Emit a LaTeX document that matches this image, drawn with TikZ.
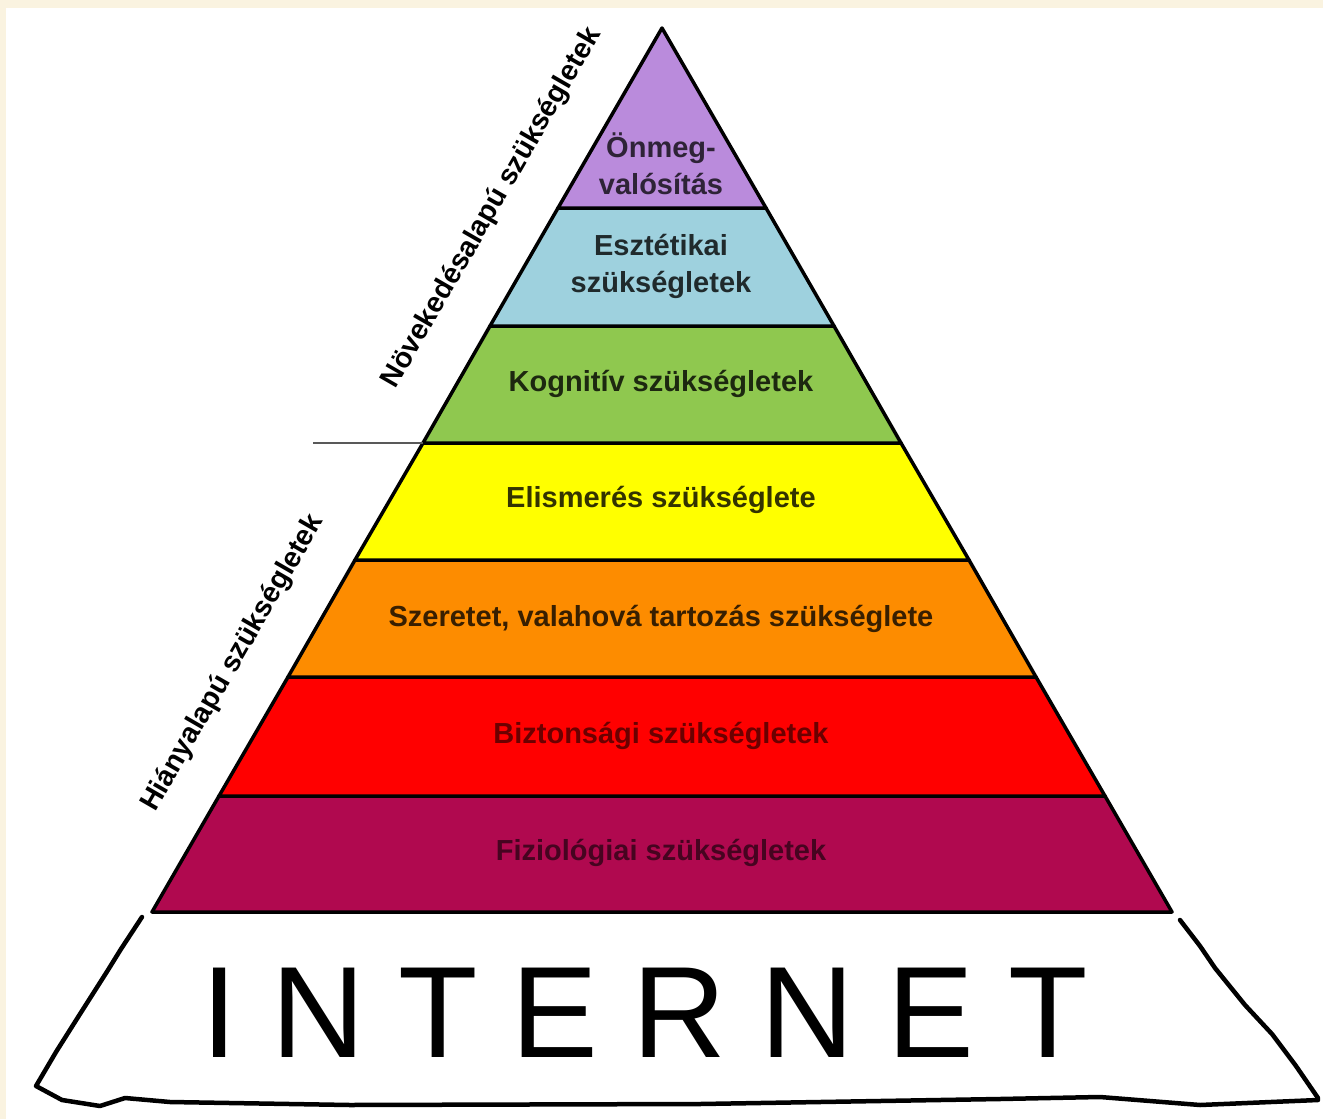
\documentclass[tikz,border=0pt]{standalone}
\usepackage{fontspec}
\setmainfont{Liberation Sans}
\usetikzlibrary{positioning,calc}

\definecolor{bgbeige}{HTML}{FAF3E0}
\definecolor{lvlpurple}{HTML}{BA8BDC}
\definecolor{lvlblue}{HTML}{9ED1DE}
\definecolor{lvlgreen}{HTML}{8FC84F}
\definecolor{lvlyellow}{HTML}{FFFF00}
\definecolor{lvlorange}{HTML}{FD8C00}
\definecolor{lvlred}{HTML}{FF0000}
\definecolor{lvlmagenta}{HTML}{B0094F}

\begin{document}
\begin{tikzpicture}[
    x=1pt, y=-1pt,
    layer/.style={draw=black, line width=3.5pt, line join=round},
    lvltext/.style={font=\bfseries\fontsize{29}{37}\selectfont, align=center, inner sep=0pt},
    sidetext/.style={font=\bfseries\fontsize{28.5}{30}\selectfont, rotate=60, inner sep=0pt},
    sketch/.style={draw=black, line width=4.5pt, line join=round, line cap=round}
]
% Background
\fill[bgbeige] (0,0) rectangle (1323,1119);
\fill[white] (6,8) rectangle (1323,1119);
\useasboundingbox (0,0) rectangle (1323,1119);

% Pyramid corner points
\coordinate (apex) at (662,28);
\coordinate (l1) at (558,208);  \coordinate (r1) at (766,208);
\coordinate (l2) at (490,326);  \coordinate (r2) at (834,326);
\coordinate (l3) at (423,443);  \coordinate (r3) at (901,443);
\coordinate (l4) at (355,560);  \coordinate (r4) at (969,560);
\coordinate (l5) at (288,677);  \coordinate (r5) at (1036,677);
\coordinate (l6) at (219,796);  \coordinate (r6) at (1105,796);
\coordinate (l7) at (152,912);  \coordinate (r7) at (1172,912);

% === Layers ===
\filldraw[layer, fill=lvlmagenta] (l6) -- (r6) -- (r7) -- (l7) -- cycle;
\filldraw[layer, fill=lvlred] (l5) -- (r5) -- (r6) -- (l6) -- cycle;
\filldraw[layer, fill=lvlorange] (l4) -- (r4) -- (r5) -- (l5) -- cycle;
\filldraw[layer, fill=lvlyellow] (l3) -- (r3) -- (r4) -- (l4) -- cycle;
\filldraw[layer, fill=lvlgreen] (l2) -- (r2) -- (r3) -- (l3) -- cycle;
\filldraw[layer, fill=lvlblue] (l1) -- (r1) -- (r2) -- (l2) -- cycle;
\filldraw[layer, fill=lvlpurple] (apex) -- (r1) -- (l1) -- cycle;

% === Layer labels ===
\node[lvltext, text=lvlpurple!25!black] (self) at (661,164) {Önmeg-\\valósítás};
\node[lvltext, text=lvlblue!20!black] (aesth) at (661,266) {Esztétikai\\szükségletek};
\node[lvltext, text=lvlgreen!20!black] (cogn) at (661,384) {Kognitív szükségletek};
\node[lvltext, text=lvlyellow!20!black] (esteem) at (661,500) {Elismerés szükséglete};
\node[lvltext, text=lvlorange!22!black] (love) at (661,619) {Szeretet, valahová tartozás szükséglete};
\node[lvltext, text=lvlred!42!black] (safety) at (661,736) {Biztonsági szükségletek};
\node[lvltext, text=lvlmagenta!40!black] (phys) at (661,853) {Fiziológiai szükségletek};

% === Divider between the two groups ===
\coordinate (divend) at (313,443);
\draw[line width=2pt, black!65] (divend) -- (l3);

% === Side labels ===
\node[sidetext] (growth) at (492,208) {Növekedésalapú szükségletek};
\node[sidetext] (deficit) at (233,663) {Hiányalapú szükségletek};

% === Hand-drawn base ===
\draw[sketch] (142,917) -- (121,949) -- (108,970) -- (80,1014)
  -- (56,1052) -- (36,1086) -- (62,1100) -- (100,1106)
  -- (125,1098) -- (170,1102) -- (350,1105) -- (700,1104) -- (1000,1099)
  -- (1100,1097) -- (1200,1105) -- (1318,1100);
\draw[sketch] (1180,920) -- (1200,946) -- (1215,968) -- (1245,1005)
  -- (1272,1034) -- (1296,1066) -- (1318,1098);

\node[font=\fontsize{130}{130}\selectfont\addfontfeature{LetterSpace=26}, anchor=west, inner sep=0pt] (net) at (201,1013) {INTERNET};
\end{tikzpicture}
\end{document}
